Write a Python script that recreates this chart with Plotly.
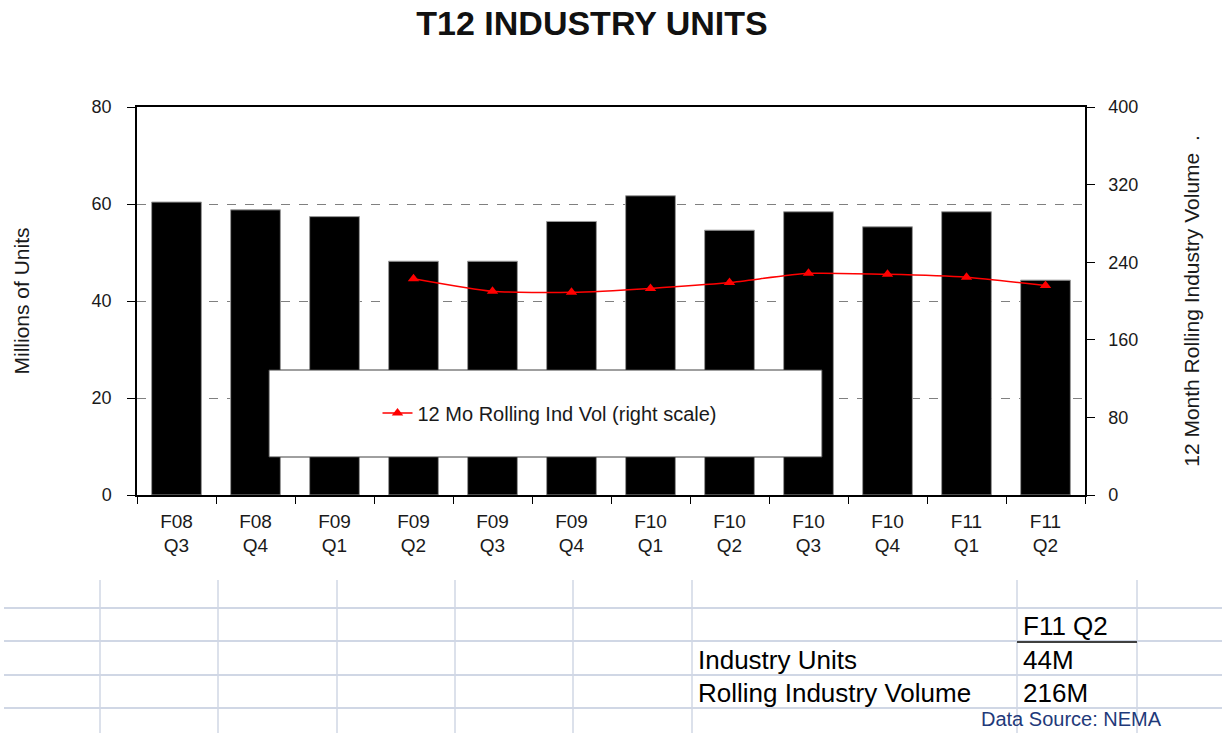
import plotly.graph_objects as go

categories = ["F08<br>Q3", "F08<br>Q4", "F09<br>Q1", "F09<br>Q2", "F09<br>Q3", "F09<br>Q4",
              "F10<br>Q1", "F10<br>Q2", "F10<br>Q3", "F10<br>Q4", "F11<br>Q1", "F11<br>Q2"]
industry_units = [60.4, 58.8, 57.4, 48.2, 48.2, 56.4, 61.7, 54.6, 58.4, 55.3, 58.4, 44.3]
rolling_volume = [None, None, None, 223, 210, 209, 213, 219, 228.5, 227.5, 224.5, 216]

left_ticks = [0, 20, 40, 60, 80]
right_ticks = [0, 80, 160, 240, 320, 400]

table_header = "F11 Q2"
table_rows = [("Industry Units", "44M"), ("Rolling Industry Volume", "216M")]
source_note = "Data Source: NEMA"

W, H = 1222, 733
L, R, T, B = 137, 1085, 107, 495


def px(x):
    return (x - L) / (R - L)


def py(y):
    return (B - y) / (B - T)


FONT = "Liberation Sans, Arial, sans-serif"

fig = go.Figure()
fig.add_trace(go.Bar(
    x=categories, y=industry_units, yaxis="y",
    marker=dict(color="black", line=dict(color="#9a9a9a", width=1)),
    showlegend=False,
))
fig.add_trace(go.Scatter(
    x=categories, y=rolling_volume, yaxis="y2", mode="lines+markers",
    name="12 Mo Rolling Ind Vol (right scale)",
    line=dict(color="#ff0000", width=1.5, shape="spline", smoothing=0.6),
    marker=dict(symbol="triangle-up", size=10, color="#ff0000"),
    connectgaps=False,
))

shapes = []
# legend box
shapes.append(dict(type="rect", xref="paper", yref="paper",
                   x0=px(269), x1=px(822), y0=py(370), y1=py(457),
                   fillcolor="white", line=dict(color="#404040", width=1), layer="above"))
# table grid: horizontal lines
for yy in [608, 641, 675, 708]:
    shapes.append(dict(type="line", xref="paper", yref="paper",
                       x0=px(4), x1=px(1222), y0=py(yy), y1=py(yy),
                       line=dict(color="#d0d7e5", width=2)))
# vertical lines
for xx in [100, 218, 337, 455, 573, 692, 1017, 1137]:
    shapes.append(dict(type="line", xref="paper", yref="paper",
                       x0=px(xx), x1=px(xx), y0=py(580), y1=py(733),
                       line=dict(color="#d0d7e5", width=1.5)))
# header underline
shapes.append(dict(type="line", xref="paper", yref="paper",
                   x0=px(1017), x1=px(1137), y0=py(642), y1=py(642),
                   line=dict(color="#404040", width=2)))

tfont = dict(family=FONT, size=26, color="black")
annotations = [
    dict(text=table_header, x=px(1021), y=py(626), xref="paper", yref="paper",
         xanchor="left", yanchor="middle", showarrow=False, font=tfont),
]
row_y = [660, 693]
for (lab, val), yy in zip(table_rows, row_y):
    annotations.append(dict(text=lab, x=px(696), y=py(yy), xref="paper", yref="paper",
                            xanchor="left", yanchor="middle", showarrow=False, font=tfont))
    annotations.append(dict(text=val, x=px(1021), y=py(yy), xref="paper", yref="paper",
                            xanchor="left", yanchor="middle", showarrow=False, font=tfont))
annotations.append(dict(text=source_note, x=px(1164), y=py(719), xref="paper", yref="paper",
                        xanchor="right", yanchor="middle", showarrow=False,
                        font=dict(family=FONT, size=20, color="#1f3a7a")))

xaxis_font = dict(family=FONT, size=19, color="#1a1a1a")
yaxis_font = dict(family=FONT, size=18, color="#1a1a1a")

fig.update_layout(
    width=W, height=H,
    paper_bgcolor="white", plot_bgcolor="white",
    margin=dict(l=L, r=W - R, t=T, b=H - B, autoexpand=False),
    title=dict(text="<b>T12 INDUSTRY UNITS</b>", x=592 / W, xanchor="center", y=1 - 23 / H,
               yanchor="middle", font=dict(family=FONT, size=34, color="#111111")),
    bargap=0.37,
    xaxis=dict(type="category", range=[-0.5, len(categories) - 0.5], tickfont=xaxis_font,
               showline=True, linecolor="black", linewidth=1.5,
               mirror=True, ticks="outside", tickson="boundaries", ticklen=7, tickcolor="black",
               ticklabelstandoff=8, showgrid=False),
    yaxis=dict(range=[0, 80], tickvals=left_ticks, tickfont=yaxis_font, showline=True,
               linecolor="black", linewidth=1.5, ticks="outside", ticklen=8, tickcolor="black",
               ticklabelstandoff=12,
               showgrid=True, gridcolor="#808080", griddash="dash", gridwidth=1,
               zeroline=False,
               title=dict(text="Millions of Units", font=dict(family=FONT, size=21, color="#1a1a1a"),
                          standoff=56)),
    yaxis2=dict(range=[0, 400], tickvals=right_ticks, overlaying="y", side="right",
                tickfont=yaxis_font, showline=True, linecolor="black", linewidth=1.5,
                ticks="outside", ticklen=8, tickcolor="black", ticklabelstandoff=10,
                showgrid=False, zeroline=False,
                title=dict(text="12 Month Rolling Industry Volume  .",
                           font=dict(family=FONT, size=21, color="#1a1a1a"),
                           standoff=47)),
    legend=dict(x=px(550), y=py(413), xanchor="center", yanchor="middle",
                bgcolor="rgba(0,0,0,0)", font=dict(family=FONT, size=20, color="#1a1a1a")),
    shapes=shapes,
    annotations=annotations,
)

fig.write_html("out.html", config={"displayModeBar": False},
               post_script="document.body.style.margin='0px';")
